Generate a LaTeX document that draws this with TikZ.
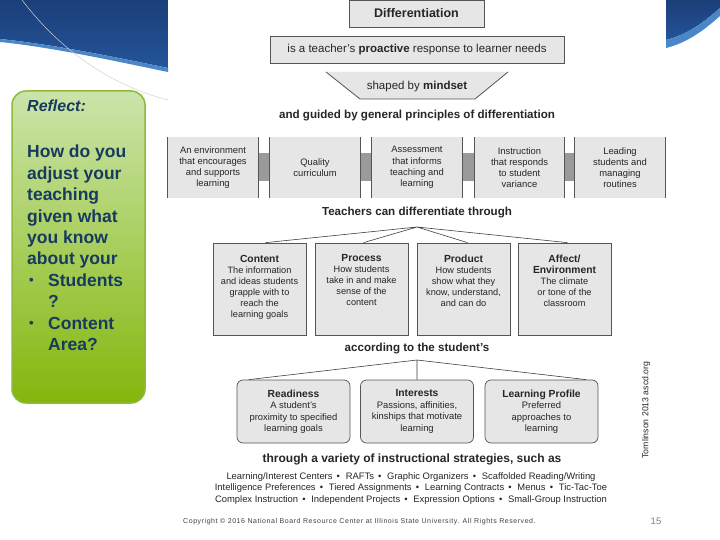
\documentclass[tikz,border=0pt]{standalone}
\usepackage{fontspec}
\setmainfont{Liberation Sans}
\usetikzlibrary{shapes.geometric}
\definecolor{boxfill}{HTML}{E6E6E6}
\definecolor{boxline}{HTML}{555555}
\definecolor{barcol}{HTML}{9A9A9A}
\definecolor{navy}{HTML}{173A5E}
\definecolor{darkblue}{HTML}{1B3F78}
\definecolor{midblue}{HTML}{24549A}
\definecolor{lightblue}{HTML}{4A86C8}
\definecolor{greentop}{HTML}{CBE4AB}
\definecolor{greenmid}{HTML}{A8CE5C}
\definecolor{greenbot}{HTML}{84B60C}
\definecolor{greenline}{HTML}{8FB83C}
\tikzset{
  topbox/.style={draw=boxline, fill=boxfill, line width=0.8pt, inner sep=0pt, font=\fontsize{11.5}{13}\selectfont, text=black!85},
  pbox/.style={fill=boxfill, inner sep=0pt, minimum width=90pt, minimum height=61pt, align=center, font=\fontsize{9.4}{11.2}\selectfont, text=black!85},
  cbox/.style={draw=boxline, fill=boxfill, line width=0.7pt, inner sep=0pt, minimum width=93pt, minimum height=92pt},
  rbox/.style={draw=boxline, fill=boxfill, line width=0.7pt, rounded corners=6pt, inner sep=0pt, minimum width=113pt, minimum height=63pt},
  boxtxt/.style={inner sep=0pt, align=center, font=\fontsize{9.2}{11}\selectfont, text=black!85, anchor=north},
  rtxt/.style={inner sep=0pt, align=center, font=\fontsize{9.4}{11.5}\selectfont, text=black!85, anchor=north},
  head/.style={inner sep=0pt, font=\fontsize{11.6}{13}\selectfont\bfseries, text=black!85},
  strat/.style={inner sep=0pt, font=\fontsize{9.4}{11.6}\selectfont, text=black!85, align=center},
  tree/.style={draw=black!75, line width=0.6pt},
  bar/.style={draw=barcol, line width=28pt},
  reflect/.style={inner sep=0pt, anchor=north west, align=left, text=navy, font=\fontsize{17.5}{21.4}\selectfont\bfseries},
}
\newcommand{\smallbul}{\raisebox{0.15ex}{\scalebox{0.75}{\textbullet}}}
\newcommand{\ttl}[1]{{\fontsize{10.3}{11}\selectfont\bfseries #1}}
\begin{document}
\begin{tikzpicture}[x=1pt,y=-1pt]
\useasboundingbox (0,0) rectangle (720,540);
\fill[white] (0,0) rectangle (720,540);
% top-left blue swoosh
\shade[top color=darkblue, bottom color=midblue] (0,0) -- (168,0) -- (168,68) .. controls (110,56) and (50,44) .. (0,39) -- cycle;
\fill[lightblue] (0,39) .. controls (50,44) and (110,56) .. (168,68) -- (168,72) .. controls (110,60) and (50,47) .. (0,42) -- cycle;
\draw[black!18, line width=0.5pt] (22,0) .. controls (60,50) and (110,85) .. (168,100);
% top-right blue swoosh
\shade[top color=darkblue, bottom color=midblue] (666,0) -- (720,0) -- (720,8) .. controls (702,24) and (686,35) .. (666,40) -- cycle;
\fill[lightblue] (666,40) .. controls (686,35) and (702,24) .. (720,8) -- (720,16) .. controls (702,32) and (686,43) .. (666,48) -- cycle;
% reflect box
\draw[rounded corners=14pt, draw=greenline, line width=1.5pt, top color=greentop, bottom color=greenbot, middle color=greenmid] (12,91) rectangle (145,403);
\node[inner sep=0pt, anchor=west, text=navy, font=\fontsize{16}{19}\selectfont\bfseries\itshape] (refl) at (27,106) {Reflect:};
\node[reflect] (q) at (27,145) {How do you\\adjust your\\teaching\\given what\\you know\\about your\\\makebox[21pt][l]{\kern2pt\smallbul}Students\\\hspace*{21pt}?\\\makebox[21pt][l]{\kern2pt\smallbul}Content\\\hspace*{21pt}Area?};
% top boxes
\node[topbox, minimum width=135pt, minimum height=27pt, font=\fontsize{12.5}{14}\selectfont\bfseries] (diff) at (416.5,13.5) {Differentiation};
\node[topbox, minimum width=294pt, minimum height=27pt] (resp) at (417,49.5) {is a teacher's \textbf{proactive} response to learner needs};
\fill[boxfill] (326,72) -- (508,72) -- (475,99) -- (360,99) -- cycle;
\draw[boxline, line width=0.8pt] (326,72) -- (360,99) -- (475,99) -- (508,72);
\node[inner sep=0pt, font=\fontsize{11.5}{13}\selectfont, text=black!85] (mind) at (417,87) {shaped by \textbf{mindset}};
\node[head] (guided) at (417,116) {and guided by general principles of differentiation};
% principles
\node[pbox] (p1) at (213,167.5) {An environment\\that encourages\\and supports\\learning};
\node[pbox] (p2) at (315,167.5) {Quality\\curriculum};
\node[pbox] (p3) at (417,167.5) {Assessment\\that informs\\teaching and\\learning};
\node[pbox] (p4) at (519.5,167.5) {Instruction\\that responds\\to student\\variance};
\node[pbox] (p5) at (620,167.5) {Leading\\students and\\managing\\routines};
\foreach \a/\b in {p1/p2,p2/p3,p3/p4,p4/p5}{\draw[bar] (\a.east) -- (\b.west);}
\foreach \p in {p1,p2,p3,p4,p5}{\draw[boxline, line width=0.8pt] (\p.north west) -- (\p.south west) (\p.north east) -- (\p.south east);}
\node[head] (teach) at (417,213) {Teachers can differentiate through};
% ways
\coordinate (apex1) at (417,227);
\node[cbox] (c1) at (259.5,289) {};
\node[cbox] (c2) at (361.5,289) {};
\node[cbox] (c3) at (463.5,289) {};
\node[cbox] (c4) at (564.5,289) {};
\draw[tree] (apex1) -- ([xshift=6pt]c1.north) (apex1) -- ([xshift=2pt]c2.north) (apex1) -- ([xshift=4pt]c3.north) (apex1) -- ([xshift=3pt]c4.north);
\node[boxtxt] (c1t) at ([yshift=-12pt]c1.north) {\ttl{Content}\\The information\\and ideas students\\grapple with to\\reach the\\learning goals};
\node[boxtxt] (c2t) at ([yshift=-12pt]c2.north) {\ttl{Process}\\How students\\take in and make\\sense of the\\content};
\node[boxtxt] (c3t) at ([yshift=-12pt]c3.north) {\ttl{Product}\\How students\\show what they\\know, understand,\\and can do};
\node[boxtxt] (c4t) at ([yshift=-12pt]c4.north) {\ttl{Affect/}\\\ttl{Environment}\\The climate\\or tone of the\\classroom};
\node[head] (accord) at (417,349) {according to the student's};
% student traits
\coordinate (apex2) at (417,360);
\node[rbox] (r1) at (293.5,411.5) {};
\node[rbox] (r2) at (417,411.5) {};
\node[rbox] (r3) at (541.5,411.5) {};
\draw[tree] (apex2) -- ([xshift=12pt]r1.north west) (apex2) -- (r2.north) (apex2) -- ([xshift=-12pt]r3.north east);
\node[rtxt] (r1t) at ([yshift=-10pt]r1.north) {\ttl{Readiness}\\A student's\\proximity to specified\\learning goals};
\node[rtxt] (r2t) at ([yshift=-10pt]r2.north) {\ttl{Interests}\\Passions, affinities,\\kinships that motivate\\learning};
\node[rtxt] (r3t) at ([yshift=-10pt]r3.north) {\ttl{Learning Profile}\\Preferred\\approaches to\\learning};
\node[head, font=\fontsize{12}{14}\selectfont\bfseries] (variety) at (412,459) {through a variety of instructional strategies, such as};
\node[strat, anchor=north] (strats) at (411,472) {Learning/Interest Centers \,\textbullet\,\, RAFTs \,\textbullet\,\, Graphic Organizers \,\textbullet\,\, Scaffolded Reading/Writing\\Intelligence Preferences \,\textbullet\,\, Tiered Assignments \,\textbullet\,\, Learning Contracts \,\textbullet\,\, Menus \,\textbullet\,\, Tic-Tac-Toe\\Complex Instruction \,\textbullet\,\, Independent Projects \,\textbullet\,\, Expression Options \,\textbullet\,\, Small-Group Instruction};
% footer
\node[inner sep=0pt, anchor=west, font=\fontsize{7}{8}\selectfont\addfontfeatures{LetterSpace=8}, text=black!75] (copy) at (183,522) {Copyright © 2016 National Board Resource Center at Illinois State University. All Rights Reserved.};
\node[inner sep=0pt, font=\fontsize{9.5}{11}\selectfont, text=black!50] (pnum) at (656,521) {15};
\node[inner sep=0pt, rotate=90, font=\fontsize{8.7}{10}\selectfont, text=black!85] (cite) at (646,410) {Tomlinson 2013 ascd.org};
\end{tikzpicture}
\end{document}
